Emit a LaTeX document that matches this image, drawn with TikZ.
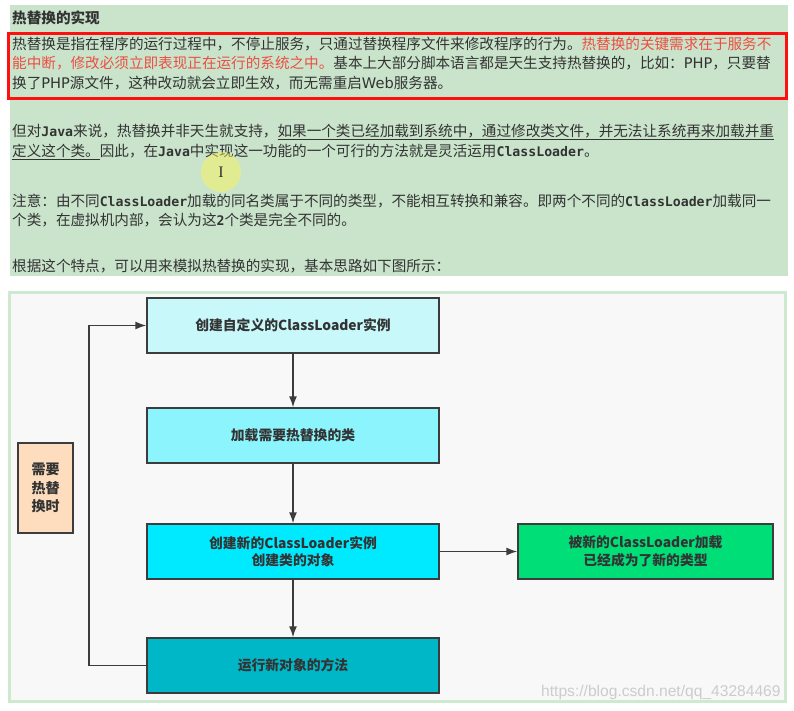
\documentclass[tikz,border=0pt]{standalone}
\usepackage{fontspec}
\setmainfont{Noto Sans CJK SC}
\newfontfamily\codefont{DejaVu Sans Mono}
\newfontfamily\latinfont{DejaVu Sans}
\newfontfamily\markfont{Liberation Sans}
\newfontfamily\cursorfont{Liberation Serif}
\usetikzlibrary{arrows.meta,positioning}
\definecolor{HRText}{HTML}{333333}
\definecolor{HRLine}{HTML}{3C3C3C}
\definecolor{HRRed}{HTML}{EC4E42}
\definecolor{HRFrame}{HTML}{FF1010}
\definecolor{HRNote}{HTML}{C9E4CB}
\definecolor{HRPanel}{HTML}{F8F8F8}
\definecolor{HRPanelEdge}{HTML}{CDEAD1}
\definecolor{HRBoxA}{HTML}{C8F8FA}
\definecolor{HRBoxB}{HTML}{8CF4FC}
\definecolor{HRBoxC}{HTML}{00EAFF}
\definecolor{HRBoxD}{HTML}{00B7C8}
\definecolor{HRGreen}{HTML}{00DE78}
\definecolor{HRPeach}{HTML}{FDDDBE}
\newcommand\jcode[1]{{\codefont\bfseries\fontsize{13.2}{18}\selectfont #1}}
\newcommand\ltn[1]{{\latinfont #1}}

\begin{document}
\begin{tikzpicture}[x=1pt,y=-1pt,
            >={Latex[length=11pt,width=8pt]},
            line/.style={anchor=west,inner sep=0pt,text=HRText,
              font=\fontsize{14.6}{18}\selectfont},
            stepbox/.style={draw=HRLine,line width=1.4pt,minimum width=292pt,
              minimum height=55pt,inner sep=0pt,align=center,text=HRText,
              font=\fontsize{13.8}{17.5}\selectfont\bfseries},
            flow/.style={->,line width=1.4pt,draw=HRLine}
          ]
          \useasboundingbox[fill=white] (0,0) rectangle (794,711);
          % note area
          \fill[HRNote] (10,5) rectangle (788,276);
          \node[line,font=\fontsize{14.6}{18}\selectfont\bfseries] (title) at (12,18) {热替换的实现};
          \node[line] (p1a) at (12,44) {热替换是指在程序的运行过程中，不停止服务，只通过替换程序文件来修改程序的行为。{\color{HRRed}热替换的关键需求在于服务不}};
          \node[line] (p1b) at (12,63) {{\color{HRRed}能中断，修改必须立即表现正在运行的系统之中。}基本上大部分脚本语言都是天生支持热替换的，比如：\ltn{PHP}，只要替};
          \node[line] (p1c) at (12,83) {换了\ltn{PHP}源文件，这种改动就会立即生效，而无需重启\ltn{Web}服务器。};
          \draw[HRFrame,line width=3pt] (8,34) rectangle (786,99);
          \node[line] (p2a) at (12,132) {但对\jcode{Java}来说，热替换并非天生就支持，\underline{如果一个类已经加载到系统中，通过修改类文件，并无法让系统再来加载并重}};
          \node[line] (p2b) at (12,152) {\underline{定义这个类。}因此，在\jcode{Java}中实现这一功能的一个可行的方法就是灵活运用\jcode{ClassLoader}。};
          \fill[yellow!70!white,opacity=0.45] (221,172) circle (20);
          \node[inner sep=0pt,text=HRText,font=\cursorfont\fontsize{16}{16}\selectfont] (cursor) at (221,172) {I};
          \node[line] (p3a) at (12,201) {注意：由不同\jcode{ClassLoader}加载的同名类属于不同的类型，不能相互转换和兼容。即两个不同的\jcode{ClassLoader}加载同一};
          \node[line] (p3b) at (12,220) {个类，在虚拟机内部，会认为这\jcode{2}个类是完全不同的。};
          \node[line] (p4) at (12,266) {根据这个特点，可以用来模拟热替换的实现，基本思路如下图所示：};
          % diagram panel
          \filldraw[fill=HRPanel,draw=HRPanelEdge,line width=3pt] (9,292) rectangle (785,701);
          \node[stepbox,fill=HRBoxA] (create) at (293,325.5) {创建自定义的ClassLoader实例};
          \node[stepbox,fill=HRBoxB] (load) at (293,435.5) {加载需要热替换的类};
          \node[stepbox,fill=HRBoxC] (newobj) at (293,551.5) {创建新的ClassLoader实例\\创建类的对象};
          \node[stepbox,fill=HRBoxD] (run) at (293,665.5) {运行新对象的方法};
          \node[stepbox,fill=HRGreen,minimum width=255pt] (newtype) at (645.5,551.5) {被新的ClassLoader加载\\已经成为了新的类型};
          \node[stepbox,fill=HRPeach,minimum width=55pt,minimum height=90pt,
            font=\fontsize{14}{18.5}\selectfont\bfseries] (when) at (45.5,488) {需要\\热替\\换时};
          \coordinate (back) at (89,500);
          \draw[flow] (create) -- (load);
          \draw[flow] (load) -- (newobj);
          \draw[flow] (newobj) -- (run);
          \draw[flow] (newobj) -- (newtype);
          \draw[flow] (run.west) -- (run.west -| back) |- (create.west);
          \node[anchor=west,inner sep=0pt,text=gray!40,
            font=\markfont\fontsize{15.6}{16}\selectfont] (mark) at (541,692) {https://blog.csdn.net/qq\_43284469};
        \end{tikzpicture}
\end{document}
